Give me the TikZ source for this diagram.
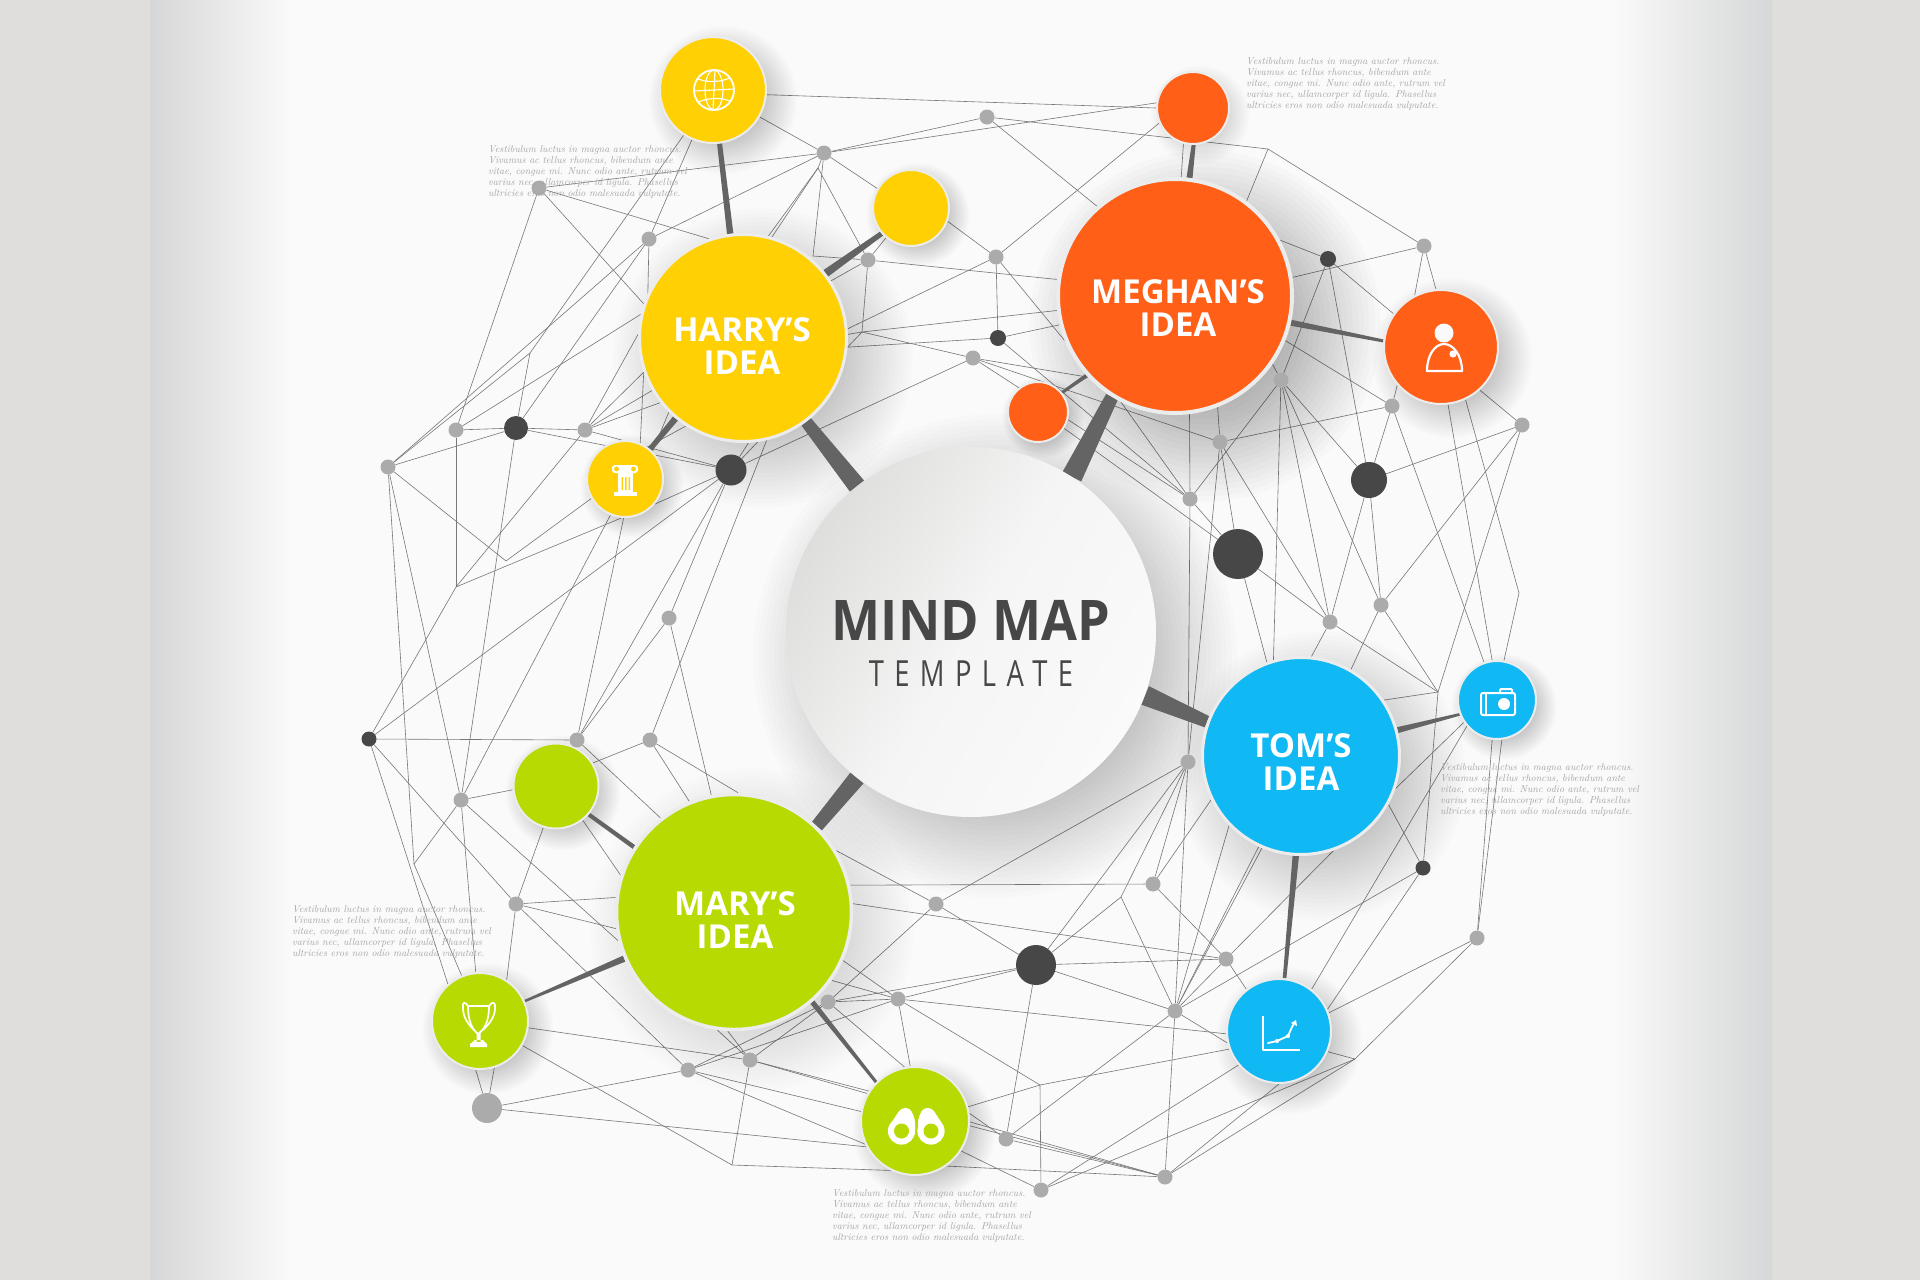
\documentclass[tikz,border=0pt]{standalone}
\usepackage{fontspec}
\usepackage{graphicx}
\usetikzlibrary{calc}
\newfontfamily\osans{Open Sans}
\newfontfamily\osansT[LetterSpace=38]{Open Sans}
\definecolor{pagec}{HTML}{DFDEDC}
\definecolor{edgec}{HTML}{D6D7D8}
\definecolor{panelc}{HTML}{FAFAFA}
\definecolor{yel}{HTML}{FFD105}
\definecolor{ora}{HTML}{FF5F17}
\definecolor{blu}{HTML}{10B8F4}
\definecolor{gre}{HTML}{B8DA03}
\definecolor{dk}{HTML}{474747}
\definecolor{gr}{HTML}{ABABAB}
\definecolor{spk}{HTML}{646464}
\definecolor{ringc}{HTML}{ECECEC}
\definecolor{netc}{HTML}{777777}
\definecolor{loremc}{HTML}{A4A4A4}
\definecolor{HubTop}{HTML}{DEDEDC}
\definecolor{HubMid}{HTML}{F5F5F5}
\pgfdeclarelayer{bglayer}
\pgfdeclarelayer{netlayer}
\pgfdeclarelayer{shadelayer}
\pgfdeclarelayer{spokelayer}
\pgfsetlayers{bglayer,netlayer,shadelayer,spokelayer,main}
\tikzset{
  disc/.style n args={3}{circle,inner sep=0pt,fill=#1,draw=ringc,line width=#3pt,minimum size=#2pt},
  gdot/.style={circle,inner sep=0pt,fill=gr,minimum size=#1pt},
  ddot/.style={circle,inner sep=0pt,fill=dk,minimum size=#1pt},
  net/.style={draw=netc,line width=0.6pt},
  spoke/.style={fill=spk},
  idea/.style={text=white,font=\osans\bfseries\fontsize{33}{33}\selectfont,align=center,inner sep=0pt},
  lorem/.style={anchor=west,align=left,inner sep=0pt,text=loremc,font=\itshape\fontsize{10}{11}\selectfont},
  ico/.style={draw=white,line width=1.8pt,line cap=round,line join=round}
}
\newcommand\taper[4]{\fill[spoke] ($(#1)!#3!90:(#2)$) -- ($(#1)!#3!-90:(#2)$) -- ($(#2)!#4!90:(#1)$) -- ($(#2)!#4!-90:(#1)$) -- cycle;}
\newcommand\softshade[5]{\foreach \k in {1,...,24}{\fill[black,opacity=#5/24] (#1.center) ++(#3,#3) circle[radius={(#2+#4-\k*2*#4/24)*1pt}];}}
\newcommand\loremtext{Vestibulum luctus in magna auctor rhoncus.\\Vivamus ac tellus rhoncus, bibendum ante\\vitae, congue mi. Nunc odio ante, rutrum vel\\varius nec, ullamcorper id ligula. Phasellus\\ultricies eros non odio malesuada vulputate.}
\begin{document}
\begin{tikzpicture}[x=1pt,y=-1pt]
\useasboundingbox (0,0) rectangle (1920,1280);
% page
\begin{pgfonlayer}{bglayer}
\fill[pagec] (0,0) rectangle (1920,1280);
\fill[panelc] (150,0) rectangle (1772,1280);
\shade[left color=edgec,right color=panelc] (150,0) rectangle (292,1280);
\shade[left color=panelc,right color=edgec] (1612,0) rectangle (1772,1280);
\end{pgfonlayer}
% discs
\node[circle,inner sep=0pt,minimum size=370pt,top color=HubTop,bottom color=panelc,middle color=HubMid,shading angle=60] (hub) at (971,632) {};
\node[disc={yel}{207}{3}] (harry) at (743,338) {};
\node[disc={ora}{234}{4}] (meghan) at (1175,296) {};
\node[disc={blu}{197}{3}] (tom) at (1301,756) {};
\node[disc={gre}{235}{3.5}] (mary) at (734,912) {};
\node[disc={yel}{106}{2}] (globe) at (713,90) {};
\node[disc={yel}{76}{2}] (yelb) at (911,208) {};
\node[disc={yel}{76}{2}] (pillar) at (625,479) {};
\node[disc={ora}{72}{2}] (topo) at (1193,108) {};
\node[disc={ora}{114}{2}] (person) at (1441,347) {};
\node[disc={ora}{60}{2}] (soran) at (1038,412) {};
\node[disc={blu}{78}{2}] (camera) at (1497,700) {};
\node[disc={blu}{104}{2}] (chart) at (1279,1031) {};
\node[disc={gre}{85}{2}] (greb) at (556,786) {};
\node[disc={gre}{96}{2}] (trophy) at (480,1021) {};
\node[disc={gre}{108}{2}] (bino) at (915,1121) {};
% dots
\foreach \n/\x/\y in {g1/539/188,g2/649/239,g4/824/153,g5/987/117,g6/868/260,g7/996/257,g8/973/358,g9/1281/380,g10/1424/246,g11/1392/406,g12/1522/425,g13/1220/442,g14/1190/499,g15/1381/605,g16/1330/622,g17/456/430,g18/585/430,g19/388/467,g20/669/618,g21/577/740,g22/650/740,g23/461/800,g24/516/904,g25/828/1002,g26/898/999,g27/750/1060,g28/688/1070,g29/1188/762,g30/1153/884,g31/936/904,g32/1226/959,g33/1175/1011,g34/1477/938,g35/1006/1139,g36/1041/1190,g37/1165/1177}
  {\node[gdot=15] (\n) at (\x,\y) {};}
\node[gdot=30] (bigg) at (487,1108) {};
\node[ddot=16] (d1) at (998,338) {};
\node[ddot=16] (d2) at (1328,259) {};
\node[ddot=36] (d3) at (1369,480) {};
\node[ddot=50] (d4) at (1238,554) {};
\node[ddot=24] (d5) at (516,428) {};
\node[ddot=31] (d6) at (731,470) {};
\node[ddot=15] (d7) at (369,739) {};
\node[ddot=40] (d8) at (1036,965) {};
\node[ddot=15] (d9) at (1423,868) {};
\foreach \n/\x/\y in {v1/530/353,v2/862/332,v3/506/561,v4/456/587,v5/1268/149,v6/1519/593,v7/414/864,v8/732/1165,v9/1121/897,v10/1040/1085,v11/1355/1059,v12/1438/692,v14/813/256,v15/818/168}
  {\coordinate (\n) at (\x,\y);}
% network
\begin{pgfonlayer}{netlayer}
\foreach \a/\b in {globe.-5/topo.180,globe.-30/g4,globe.-123/v1,globe.-113/g2,g1/g4,g4/g5,g4/topo.172,g5/v5,g5/meghan.131,
 g1/harry.109,g1/harry.161,g1/g17,v1/g19,v1/d5,g2/d5,g2/g19,g2/g4,g2/harry.155,g17/harry.167,
 g4/v14,v14/g6,g4/v15,v15/harry.74,v15/harry.76,v15/g6,g4/yelb.150,g6/yelb.-130,g6/harry.33,g6/v2,g6/meghan.172,
 v2/harry.2,v2/harry.-5,v2/meghan.187,v2/g8,harry.5.5/g7,harry.-5/d1,yelb.-20/g7,g7/topo.204,g7/d1,g7/meghan.202,d1/meghan.194,
 g8/meghan.223,g8/g13,d1/g14,g8/g14,soran.-32/d4,meghan.243/g14,meghan.-83/g14,g14/g9,g14/g29,g14/d4,meghan.-69/g13,g13/g11,g13/d4,g13/g16,g13/g29,
 g9/d2,meghan.-35/g9,g9/tom.106,g9/g16,g9/g15,g9/d3,g11/d3,meghan.-22/g11,g11/person.221,g11/camera.109,
 meghan.28/d2,meghan.9/g10,d2/person.145,d2/d3,g10/person.117,g10/person.95,v5/g10,v5/meghan.53,
 person.-48/g12,person.-65/v6,person.-83/camera.97,g12/d3,g12/g15,g12/v12,d3/g15,d3/g16,g15/v12,g16/v12,d4/g16,d4/tom.110,g15/tom.60,g16/tom.84,
 v6/camera.80,v12/d9,v12/tom.34,camera.-97/g34,camera.-83/g34,camera.214/tom.-19,camera.221/chart.52,g34/chart.20,g34/v11,v11/g37,v11/g36,chart.-23/v11,
 d9/chart.24,d9/tom.-29,d9/g33,tom.-71/g32,tom.247/g33,tom.245/g33,tom.224/g33,
 g29/g31,g29/g33,g29/d8,g29/g30,g30/tom.206,g30/g32,mary.13/g30,g31/d8,mary.31/g31,v9/d8,v9/g29,v9/g33,d8/g32,d8/g33,mary.4/g32,
 g26/d8,g25/d8,d8/g35,g26/chart.183,g33/g35,g33/g37,g33/chart.193,g32/chart.128,g32/g33,v10/chart.200,v10/bino.15,v10/g36,chart.220/g36,g26/v10,chart.-90/g37,
 bino.8/g35,bino.-1/g37,bino.-5/g37,g35/g37,bino.-33/g36,bino.-55/g37,g27/bino.150,g27/bino.147,g28/bino.170,g28/bino.205,bigg/bino.208,v8/bino.244,g25/bino.101,g26/bino.95,
 d7/g21,d7/v4,d7/d6,d7/g24,g24/g28,d7/trophy.131,g19/g23,g19/v7,d5/g23,v7/g23,v7/trophy.112,pillar.248/g23,pillar.-92/g21,d6/g21,g20/g21,g20/d6,harry.-77/g22,g20/mary.101,
 g22/greb.32,g22/mary.112,g22/mary.88,g21/mary.128,greb.-52/mary.162,g23/greb.185,g24/greb.-107,g23/mary.194,g23/trophy.95,g24/trophy.57,g24/mary.173,g24/mary.188,
 trophy.-95/bigg,trophy.-73/bigg,trophy.-8/g27,trophy.-30/v8,v8/g27,bigg/g28,g28/g25,g27/g25,g25/g31,g25/g26,mary.-35/g26,mary.-24/g26,g28/g26,g27/mary.-98,g27/mary.-93,
 d5/d6,d5/g18,g17/d5,g19/d5,g17/v4,g19/v3,v3/pillar.210,v4/pillar.265,v4/g18,g18/d6,g18/harry.199,g18/harry.210,g18/harry.218,g18/harry.178,harry.199/pillar.67,
 pillar.-40/d6,d6/harry.-87,d6/harry.-82,pillar.55/harry.-123,pillar.45/harry.-135,d6/g8,topo.-105/meghan.87}
 {\draw[net] (\a) -- (\b);}
\end{pgfonlayer}
% shadows
\begin{pgfonlayer}{shadelayer}
\softshade{hub}{185}{24}{62}{0.30}
\softshade{harry}{102}{20}{52}{0.28}
\softshade{meghan}{115}{30}{66}{0.36}
\softshade{tom}{97}{20}{52}{0.24}
\softshade{mary}{116}{18}{50}{0.22}
\softshade{globe}{52}{10}{24}{0.26}
\softshade{yelb}{37}{7}{16}{0.26}
\softshade{pillar}{37}{7}{16}{0.26}
\softshade{topo}{35}{7}{16}{0.22}
\softshade{person}{56}{11}{26}{0.26}
\softshade{soran}{29}{5}{13}{0.24}
\softshade{camera}{38}{7}{16}{0.26}
\softshade{chart}{51}{10}{24}{0.26}
\softshade{greb}{41}{7}{18}{0.24}
\softshade{trophy}{47}{8}{20}{0.24}
\softshade{bino}{53}{9}{20}{0.24}
\end{pgfonlayer}
% spokes
\begin{pgfonlayer}{spokelayer}
\taper{hub.128.7}{harry.-53}{9pt}{6pt}
\taper{hub.57.8}{meghan.238}{10.5pt}{6.5pt}
\taper{hub.-20.3}{tom.160}{10pt}{6pt}
\taper{hub.232}{mary.46}{8.5pt}{6.5pt}
\taper{harry.97}{globe.-83}{3.2pt}{2.5pt}
\taper{harry.38}{yelb.221}{4pt}{2.5pt}
\taper{harry.230}{pillar.50}{3.2pt}{2.5pt}
\taper{meghan.83}{topo.-89}{3pt}{2pt}
\taper{meghan.-13.7}{person.174}{3pt}{1.5pt}
\taper{meghan.222}{soran.39}{2pt}{1.5pt}
\taper{tom.15}{camera.201}{3pt}{1.3pt}
\taper{tom.-93}{chart.84}{3.2pt}{1.8pt}
\taper{mary.147}{greb.-41}{2.2pt}{2pt}
\taper{mary.203.6}{trophy.24}{3.2pt}{1.2pt}
\taper{mary.-49}{bino.135}{2.6pt}{1.5pt}
\end{pgfonlayer}
% texts
\node[text=dk,inner sep=0pt,font=\osans\bfseries\fontsize{56}{56}\selectfont] (hubtitle) at (971,620) {\scalebox{0.93}[1]{MIND MAP}};
\node[text=dk,inner sep=0pt,font=\osansT\fontsize{36}{36}\selectfont] (hubsub) at (971,674) {\scalebox{0.76}[1]{TEMPLATE}};
\node[idea] (harrytxt) at (742,346) {HARRY’S\\IDEA};
\node[idea] (meghantxt) at (1178,308) {MEGHAN’S\\IDEA};
\node[idea] (tomtxt) at (1301,762) {TOM’S\\IDEA};
\node[idea] (marytxt) at (735,920) {MARY’S\\IDEA};
\node[lorem] (lorema) at (488,172) {\loremtext};
\node[lorem] (loremb) at (1246,84) {\loremtext};
\node[lorem] (loremc) at (1440,790) {\loremtext};
\node[lorem] (loremd) at (292,932) {\loremtext};
\node[lorem] (loreme) at (832,1216) {\loremtext};
% icons
\begin{scope}[shift={(714,90)}]
 \draw[ico] (0,0) circle[radius=20pt];
 \draw[ico,line width=1.1pt] (0,0) ellipse[x radius=9pt,y radius=20pt];
 \draw[ico,line width=1.1pt] (1,-20) -- (-1,20) (-20,1) -- (20,-1);
 \draw[ico,line width=1.1pt] (-16,-11) .. controls (-6,-7) and (6,-8) .. (16,-12);
 \draw[ico,line width=1.1pt] (-16,12) .. controls (-6,8) and (6,7) .. (16,11);
\end{scope}
\begin{scope}[shift={(625,479)}]
 \fill[white,rounded corners=3pt] (-13,-14) rectangle (13,-6);
 \fill[yel] (-8.5,-10) circle[radius=2.4pt] (8.5,-10) circle[radius=2.4pt];
 \fill[white] (-7,-6) rectangle (8,13);
 \fill[yel] (-3.5,-2) rectangle (-1.8,11) (0,-2) rectangle (1.7,11) (3.5,-2) rectangle (5.2,11);
 \fill[white] (-11,13) rectangle (12,17);
\end{scope}
\begin{scope}[shift={(1441,347)}]
 \fill[panelc] (3,-14) circle[radius=9.5pt];
 \draw[ico,line width=2.2pt] (-14,24) .. controls (-14,8) and (-6,-3) .. (3,-3) .. controls (12,-3) and (21,8) .. (21,24) -- cycle;
 \fill[white] (12,7) circle[radius=3.6pt];
\end{scope}
\begin{scope}[shift={(1497,700)}]
 \draw[ico,line width=2pt,rounded corners=2pt] (-16,-7) rectangle (18,15);
 \draw[ico,line width=2pt,rounded corners=1pt] (3,-7) -- (3,-11) -- (15,-11) -- (15,-7);
 \draw[ico,line width=1.6pt] (-11,-7) -- (-11,15);
 \fill[white] (7,4) circle[radius=6pt];
\end{scope}
\begin{scope}[shift={(1279,1031)}]
 \draw[ico,line cap=butt] (-16,-15) -- (-16,19) -- (21,19);
 \draw[ico] (-11,12) -- (-2,10) -- (9,5) -- (13,-4) -- (16,-9);
 \fill[white] (17,-11) -- (12,-8) -- (18,-5) -- cycle;
 \fill[white] (-2,10) circle[radius=2pt] (9,5) circle[radius=2pt];
\end{scope}
\begin{scope}[shift={(478,1003)}]
 \draw[ico,line width=1.7pt] (-10,3) -- (11,3) .. controls (11,18) and (7,26) .. (0,31) .. controls (-6,26) and (-10,18) .. (-10,3);
 \draw[ico,line width=1.7pt] (-10,3) .. controls (-13,-2) and (-16,-1) .. (-15,5) .. controls (-15,15) and (-9,22) .. (-4,27);
 \draw[ico,line width=1.7pt] (11,3) .. controls (14,-2) and (18,-1) .. (17,5) .. controls (17,15) and (10,22) .. (5,27);
 \fill[white] (-1.5,30) rectangle (2.5,39) (-8,41) -- (-3,37) -- (5,37) -- (9,41) -- (9,44) -- (-8,44) -- cycle;
\end{scope}
\begin{scope}[shift={(916,1131)}]
 \fill[white,rounded corners=4pt] (-26,-6) -- (-15,-23) -- (-6,-23) -- (-1,-12) -- (-1,3) -- (-14,13) -- cycle;
 \fill[white,rounded corners=4pt] (27,-6) -- (16,-23) -- (7,-23) -- (2,-12) -- (2,3) -- (15,13) -- cycle;
 \fill[white] (-14.5,0) circle[radius=13.6pt] (15,0) circle[radius=13.6pt];
 \fill[gre] (-14.5,0) circle[radius=7.5pt] (15,0) circle[radius=7.5pt];
\end{scope}
\end{tikzpicture}
\end{document}
